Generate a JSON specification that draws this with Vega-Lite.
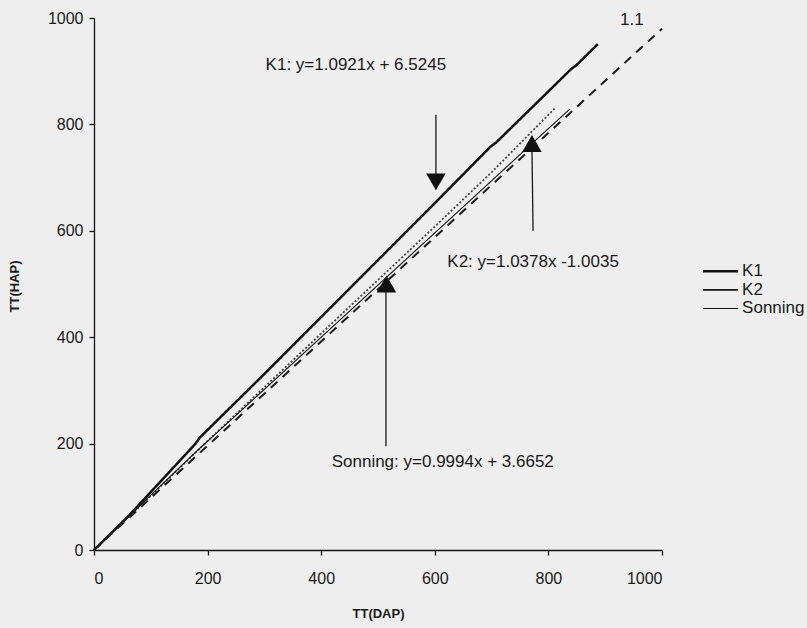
{
  "$schema": "https://vega.github.io/schema/vega-lite/v6.json",
  "width": 568,
  "height": 532,
  "autosize": {"type": "none"},
  "padding": {"left": 94, "top": 18, "right": 145, "bottom": 78},
  "background": "#eeeeee",
  "config": {
    "view": {"stroke": null},
    "font": "Liberation Sans",
    "axis": {
      "grid": false,
      "domainColor": "#111111",
      "domainWidth": 1.3,
      "tickColor": "#111111",
      "tickWidth": 1.3,
      "tickSize": 5,
      "labelFont": "Liberation Sans",
      "labelFontSize": 16,
      "labelColor": "#1a1a1a",
      "format": "d",
      "titleFont": "Liberation Sans",
      "titleFontSize": 13,
      "titleFontWeight": "bold",
      "titleColor": "#1a1a1a"
    }
  },
  "datasets": {
    "lines": [
      {"series": "K1", "x": 0, "y": 0},
      {"series": "K1", "x": 60, "y": 63},
      {"series": "K1", "x": 120, "y": 132},
      {"series": "K1", "x": 178, "y": 199},
      {"series": "K1", "x": 186, "y": 211},
      {"series": "K1", "x": 300, "y": 331},
      {"series": "K1", "x": 400, "y": 438},
      {"series": "K1", "x": 500, "y": 545},
      {"series": "K1", "x": 600, "y": 652},
      {"series": "K1", "x": 698, "y": 758},
      {"series": "K1", "x": 708, "y": 766},
      {"series": "K1", "x": 800, "y": 862},
      {"series": "K1", "x": 840, "y": 904},
      {"series": "K1", "x": 850, "y": 912},
      {"series": "K1", "x": 887, "y": 951},
      {"series": "K2", "x": 0, "y": 0},
      {"series": "K2", "x": 100, "y": 102},
      {"series": "K2", "x": 200, "y": 205},
      {"series": "K2", "x": 400, "y": 407},
      {"series": "K2", "x": 600, "y": 608},
      {"series": "K2", "x": 700, "y": 710},
      {"series": "K2", "x": 812, "y": 831},
      {"series": "Sonning", "x": 0, "y": 0},
      {"series": "Sonning", "x": 100, "y": 103},
      {"series": "Sonning", "x": 181, "y": 186},
      {"series": "Sonning", "x": 300, "y": 302},
      {"series": "Sonning", "x": 400, "y": 400},
      {"series": "Sonning", "x": 500, "y": 498},
      {"series": "Sonning", "x": 600, "y": 596},
      {"series": "Sonning", "x": 700, "y": 694},
      {"series": "Sonning", "x": 770, "y": 763},
      {"series": "Sonning", "x": 838, "y": 829}
    ],
    "oneone": [
      {"x": 0, "y": 0},
      {"x": 1000, "y": 980}
    ],
    "arrows": [
      {"name": "K1", "x": 602, "y": 818, "x2": 602, "y2": 700},
      {"name": "K2", "x": 773, "y": 600, "x2": 771, "y2": 760},
      {"name": "Sonning", "x": 514, "y": 195, "x2": 514, "y2": 490}
    ],
    "heads": [
      {"name": "K1", "x": 602, "y": 692, "dir": "down"},
      {"name": "K2", "x": 771, "y": 764, "dir": "up"},
      {"name": "Sonning", "x": 515, "y": 500, "dir": "up"}
    ],
    "labels": [
      {"text": "K1: y=1.0921x + 6.5245", "x": 461, "y": 912},
      {"text": "K2: y=1.0378x -1.0035", "x": 773, "y": 541},
      {"text": "Sonning: y=0.9994x + 3.6652", "x": 614, "y": 165},
      {"text": "1.1", "x": 947, "y": 996}
    ],
    "legend": [
      {"series": "K1", "x": 1072, "x2": 1134, "y": 524, "lx": 1141},
      {"series": "K2", "x": 1072, "x2": 1134, "y": 489, "lx": 1141},
      {"series": "Sonning", "x": 1072, "x2": 1134, "y": 454, "lx": 1141}
    ]
  },
  "layer": [
    {
      "data": {"name": "oneone"},
      "mark": {"type": "line", "color": "#1a1a1a", "strokeWidth": 2, "strokeDash": [9, 7]},
      "encoding": {
        "x": {
          "field": "x", "type": "quantitative",
          "scale": {"domain": [0, 1000], "nice": false},
          "axis": {"values": [0, 200, 400, 600, 800, 1000], "labelPadding": 15, "title": "TT(DAP)", "titleX": 284, "titleY": 63, "titleBaseline": "middle"}
        },
        "y": {
          "field": "y", "type": "quantitative",
          "scale": {"domain": [0, 1000], "nice": false},
          "axis": {"values": [0, 200, 400, 600, 800, 1000], "labelPadding": 6, "title": "TT(HAP)", "titleX": -80, "titleY": 268, "titleBaseline": "middle", "titleAlign": "center"}
        }
      }
    },
    {
      "data": {"name": "lines"},
      "mark": {"type": "line"},
      "encoding": {
        "x": {"field": "x", "type": "quantitative"},
        "y": {"field": "y", "type": "quantitative"},
        "detail": {"field": "series"},
        "color": {
          "field": "series", "type": "nominal",
          "scale": {"domain": ["K1", "K2", "Sonning"], "range": ["#111111", "#444444", "#111111"]},
          "legend": null
        },
        "strokeWidth": {
          "field": "series", "type": "ordinal",
          "scale": {"domain": ["K1", "K2", "Sonning"], "range": [2.5, 1.1, 1.8]},
          "legend": null
        },
        "strokeDash": {
          "field": "series", "type": "nominal",
          "scale": {"domain": ["K1", "K2", "Sonning"], "range": [[1, 0], [2, 2], [1, 0]]},
          "legend": null
        }
      }
    },
    {
      "data": {"name": "arrows"},
      "mark": {"type": "rule", "color": "#1a1a1a", "strokeWidth": 1.3},
      "encoding": {
        "x": {"field": "x", "type": "quantitative"},
        "y": {"field": "y", "type": "quantitative"},
        "x2": {"field": "x2"},
        "y2": {"field": "y2"}
      }
    },
    {
      "data": {"name": "heads"},
      "mark": {"type": "point", "filled": true, "color": "#111111", "size": 380, "opacity": 1},
      "encoding": {
        "x": {"field": "x", "type": "quantitative"},
        "y": {"field": "y", "type": "quantitative"},
        "shape": {
          "field": "dir", "type": "nominal",
          "scale": {"domain": ["down", "up"], "range": ["triangle-down", "triangle-up"]},
          "legend": null
        }
      }
    },
    {
      "data": {"name": "labels"},
      "mark": {"type": "text", "font": "Liberation Sans", "fontSize": 17, "color": "#1a1a1a", "align": "center", "baseline": "middle"},
      "encoding": {
        "x": {"field": "x", "type": "quantitative"},
        "y": {"field": "y", "type": "quantitative"},
        "text": {"field": "text"}
      }
    },
    {
      "data": {"name": "legend"},
      "mark": {"type": "rule", "color": "#111111", "clip": false},
      "encoding": {
        "x": {"field": "x", "type": "quantitative"},
        "x2": {"field": "x2"},
        "y": {"field": "y", "type": "quantitative"},
        "strokeWidth": {
          "field": "series", "type": "ordinal",
          "scale": {"domain": ["K1", "K2", "Sonning"], "range": [2.5, 1.1, 1.8]},
          "legend": null
        }
      }
    },
    {
      "data": {"name": "legend"},
      "mark": {"type": "text", "font": "Liberation Sans", "fontSize": 17, "color": "#1a1a1a", "align": "left", "baseline": "middle", "clip": false},
      "encoding": {
        "x": {"field": "lx", "type": "quantitative"},
        "y": {"field": "y", "type": "quantitative"},
        "text": {"field": "series"}
      }
    }
  ]
}
